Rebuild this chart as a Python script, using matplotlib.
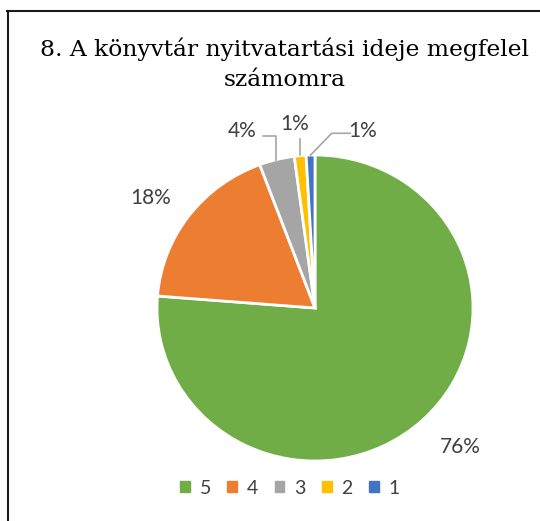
import numpy as np
import matplotlib
matplotlib.use("Agg")
import matplotlib.pyplot as plt
from matplotlib.lines import Line2D

# Adatok
categories = ["5", "4", "3", "2", "1"]
values = [76.4, 18.1, 3.6, 1.2, 0.9]
colors = ["#70AD47", "#ED7D31", "#A5A5A5", "#FFC000", "#4472C4"]
title = "8. A könyvtár nyitvatartási ideje megfelel\nszámomra"

# címke-pozíciók (adat-koordináta, sugár = 1)
label_pos = [(0.92, -0.91), (-1.04, 0.72), (-0.46, 1.16), (-0.13, 1.20), (0.30, 1.16)]
# vezetővonal könyöke (None = nincs vonal)
elbows = [None, None, [(-0.33, 1.125), (-0.247, 1.125)],
          [(-0.095, 1.105)], [(0.222, 1.142), (0.106, 1.142)]]

fig = plt.figure(figsize=(5.4, 5.21), dpi=100)
ax = fig.add_axes([(315 - 158) / 540, (521 - 308 - 153) / 521, 316 / 540, 306 / 521])

wedges, _ = ax.pie(values, colors=colors, startangle=90, counterclock=False,
                   radius=1, wedgeprops=dict(edgecolor="white", linewidth=2))
ax.set_aspect("auto")
ax.set_xlim(-1, 1)
ax.set_ylim(-1, 1)

text_color = "#404040"
for w, v, (lx, ly), elb in zip(wedges, values, label_pos, elbows):
    ax.text(lx, ly, f"{round(v):d}%", ha="center", va="center", fontsize=15,
            color=text_color, family="Lato")
    if elb is not None:
        ang = np.deg2rad((w.theta1 + w.theta2) / 2)
        ex = elb[-1][0]
        ey = np.sqrt(max(1 - ex ** 2, 0)) + 0.005
        if len(elb) == 2:
            ex, ey = np.cos(ang), np.sin(ang)
            if abs(elb[0][1] - elb[1][1]) < 1e-6 and elb[0][0] < 0:
                ex = elb[-1][0]
                ey = np.sqrt(1 - ex ** 2)
        xs = [p[0] for p in elb] + [ex]
        ys = [p[1] for p in elb] + [ey]
        ax.add_line(Line2D(xs, ys, color="#A6A6A6", linewidth=1.2, clip_on=False))

fig.text(0.527, 1 - 64 / 521, title, ha="center", va="center", fontsize=16.8,
         family="DejaVu Serif", color="black", linespacing=1.45)

handles = [plt.Rectangle((0, 0), 1, 1, color=c) for c in colors]
fig.legend(handles, categories, loc="center", bbox_to_anchor=(0.537, 1 - 488 / 521),
           ncol=5, frameon=False, handlelength=0.5, handleheight=0.5,
           handletextpad=0.5, columnspacing=0.85,
           prop={"family": "Lato", "size": 14}, labelcolor=text_color)

# keret (bal és felső vonal)
fig.add_artist(Line2D([7.5 / 540, 7.5 / 540], [0, 1 - 10.5 / 521], color="#1a1a1a",
                      linewidth=1.5, transform=fig.transFigure))
fig.add_artist(Line2D([7 / 540, 1], [1 - 10.5 / 521, 1 - 10.5 / 521], color="#1a1a1a",
                      linewidth=1.5, transform=fig.transFigure))

fig.savefig("out.png", dpi=100)
